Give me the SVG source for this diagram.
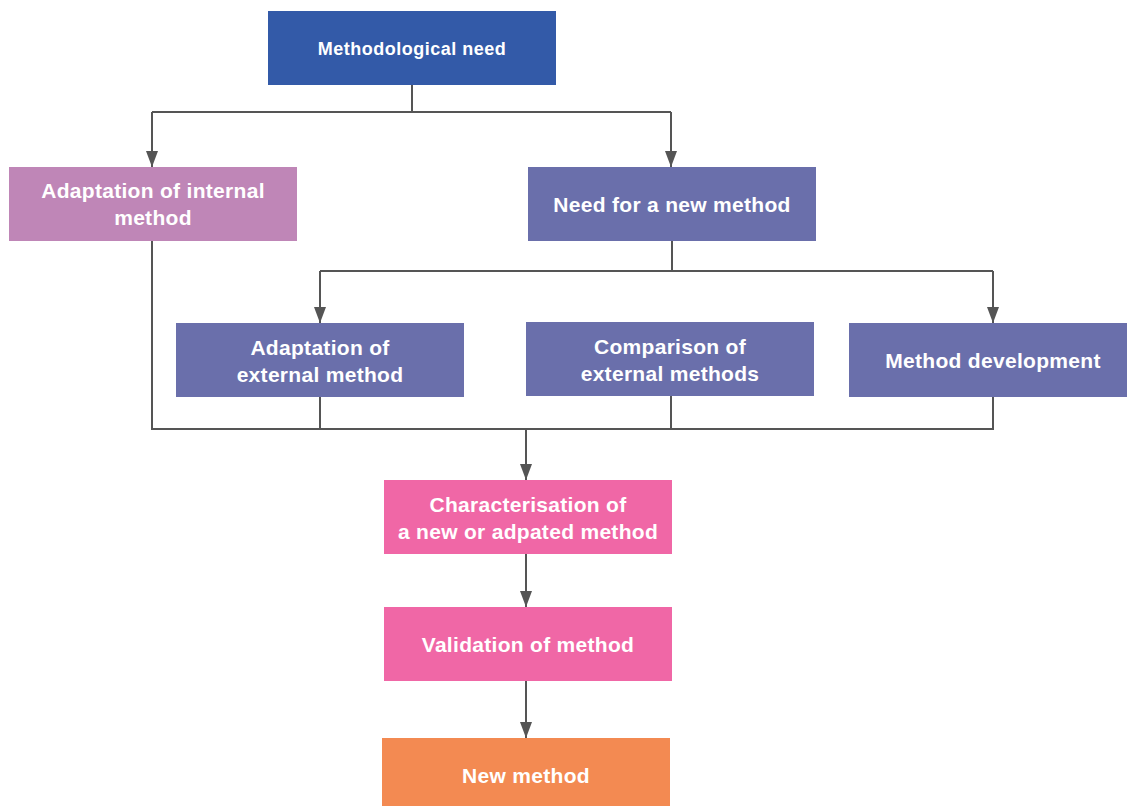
<svg xmlns="http://www.w3.org/2000/svg" width="1127" height="806" viewBox="0 0 1127 806">
<style>
text{font-family:"Liberation Sans",Arial,sans-serif;font-weight:bold;fill:#fff;text-anchor:middle;font-size:21px;letter-spacing:0.3px}
.c{fill:none;stroke:#555;stroke-width:2}
</style>
<defs>
<marker id="a" viewBox="0 0 16 12" markerWidth="16" markerHeight="12" refX="16" refY="6" orient="auto" markerUnits="userSpaceOnUse">
<path d="M0,0 L16,6 L0,12 Z" fill="#555"/>
</marker>
</defs>
<rect width="1127" height="806" fill="#fff"/>
<g id="connectors">
<path class="c" d="M412,85 V112 M152,112 H671"/>
<path class="c" d="M152,112 V167" marker-end="url(#a)"/>
<path class="c" d="M671,112 V167" marker-end="url(#a)"/>
<path class="c" d="M672,241 V271 M320,271 H993"/>
<path class="c" d="M320,271 V323" marker-end="url(#a)"/>
<path class="c" d="M993,271 V323" marker-end="url(#a)"/>
<path class="c" d="M152,241 V429 H993 V397 M320,397 V429 M671,396 V429"/>
<path class="c" d="M526,429 V480" marker-end="url(#a)"/>
<path class="c" d="M526,554 V607" marker-end="url(#a)"/>
<path class="c" d="M526,681 V738" marker-end="url(#a)"/>
</g>
<g id="n1"><rect x="268" y="11" width="288" height="74" fill="#335AA8"/><text x="412" y="55" style="font-size:18px;letter-spacing:0.5px">Methodological need</text></g>
<g id="n2"><rect x="9" y="167" width="288" height="74" fill="#BF86B7"/><text x="153" y="198">Adaptation of internal</text><text x="153" y="225">method</text></g>
<g id="n3"><rect x="528" y="167" width="288" height="74" fill="#6A6FAB"/><text x="672" y="212">Need for a new method</text></g>
<g id="n4"><rect x="176" y="323" width="288" height="74" fill="#6A6FAB"/><text x="320" y="355">Adaptation of</text><text x="320" y="382">external method</text></g>
<g id="n5"><rect x="526" y="322" width="288" height="74" fill="#6A6FAB"/><text x="670" y="354">Comparison of</text><text x="670" y="381">external methods</text></g>
<g id="n6"><rect x="849" y="323" width="278" height="74" fill="#6A6FAB"/><text x="993" y="368">Method development</text></g>
<g id="n7"><rect x="384" y="480" width="288" height="74" fill="#F067A6"/><text x="528" y="512">Characterisation of</text><text x="528" y="539">a new or adpated method</text></g>
<g id="n8"><rect x="384" y="607" width="288" height="74" fill="#F067A6"/><text x="528" y="652">Validation of method</text></g>
<g id="n9"><rect x="382" y="738" width="288" height="68" fill="#F38A52"/><text x="526" y="783">New method</text></g>
</svg>
